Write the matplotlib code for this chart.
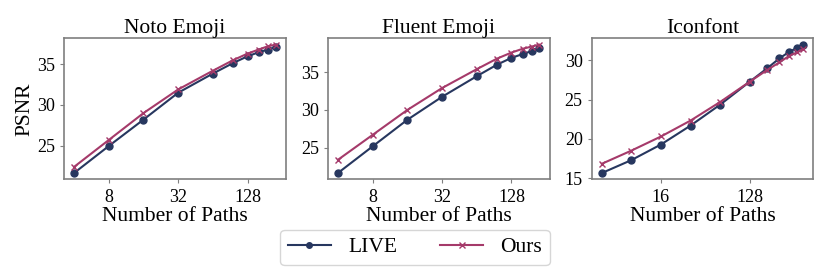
import matplotlib
matplotlib.use("Agg")
import matplotlib.pyplot as plt
from matplotlib.ticker import NullLocator

plt.rcParams["font.family"] = ["Liberation Serif", "DejaVu Serif"]

titles = ["Noto Emoji", "Fluent Emoji", "Iconfont"]

emoji_paths = [4, 8, 16, 32, 64, 96, 128, 160, 192, 224]
icon_paths = [4, 8, 16, 32, 64, 128, 192, 256, 320, 384, 448]

noto_live = [21.65, 24.96, 28.2, 31.5, 33.85, 35.15, 35.97, 36.47, 36.8, 37.1]
noto_ours = [22.4, 25.7, 29.0, 31.9, 34.2, 35.5, 36.3, 36.8, 37.2, 37.4]

fluent_live = [21.65, 25.18, 28.7, 31.74, 34.47, 36.0, 36.9, 37.4, 37.8, 38.2]
fluent_ours = [23.4, 26.7, 30.0, 32.9, 35.4, 36.8, 37.6, 38.1, 38.4, 38.65]

icon_live = [15.64, 17.29, 19.28, 21.69, 24.36, 27.29, 28.98, 30.25, 31.06, 31.57, 32.0]
icon_ours = [16.82, 18.5, 20.3, 22.33, 24.7, 27.29, 28.77, 29.75, 30.55, 31.0, 31.44]

xticks = [[8, 32, 128], [8, 32, 128], [16, 128]]
yticks = [[25, 30, 35], [25, 30, 35], [15, 20, 25, 30]]

live_color = "#27375f"
ours_color = "#a53a6a"
spine_color = "#7f7f7f"

panels = [
    (emoji_paths, noto_live, noto_ours),
    (emoji_paths, fluent_live, fluent_ours),
    (icon_paths, icon_live, icon_ours),
]

fig, axes = plt.subplots(1, 3, figsize=(8.3, 2.77), dpi=100)
fig.subplots_adjust(left=0.077, right=0.98, top=0.862, bottom=0.352, wspace=0.19)

for i, ax in enumerate(axes):
    x, live, ours = panels[i]
    ax.plot(x, live, "-o", color=live_color, linewidth=1.5, markersize=5, label="LIVE")
    ax.plot(x, ours, "-x", color=ours_color, linewidth=1.5, markersize=5,
            markeredgewidth=1.0, label="Ours")
    ax.set_xscale("log", base=2)
    ax.xaxis.set_minor_locator(NullLocator())
    ax.set_xticks(xticks[i], [str(t) for t in xticks[i]])
    ax.set_yticks(yticks[i], [str(t) for t in yticks[i]])
    ax.tick_params(labelsize=13, color=spine_color, length=3)
    for s in ax.spines.values():
        s.set_color(spine_color)
        s.set_linewidth(1.2)
    ax.set_title(titles[i], fontsize=15.5, pad=4)
    ax.set_xlabel("Number of Paths", fontsize=15.5, labelpad=1)

axes[0].set_ylabel("PSNR", fontsize=15.5, labelpad=2)

handles, labels = axes[0].get_legend_handles_labels()
fig.legend(handles, labels, loc="center", bbox_to_anchor=(0.5, 0.107), ncol=2,
           fontsize=15.5, markerscale=0.8, columnspacing=2.0,
           borderpad=0.35, handlelength=2.0)

fig.savefig("out.png", dpi=100)
